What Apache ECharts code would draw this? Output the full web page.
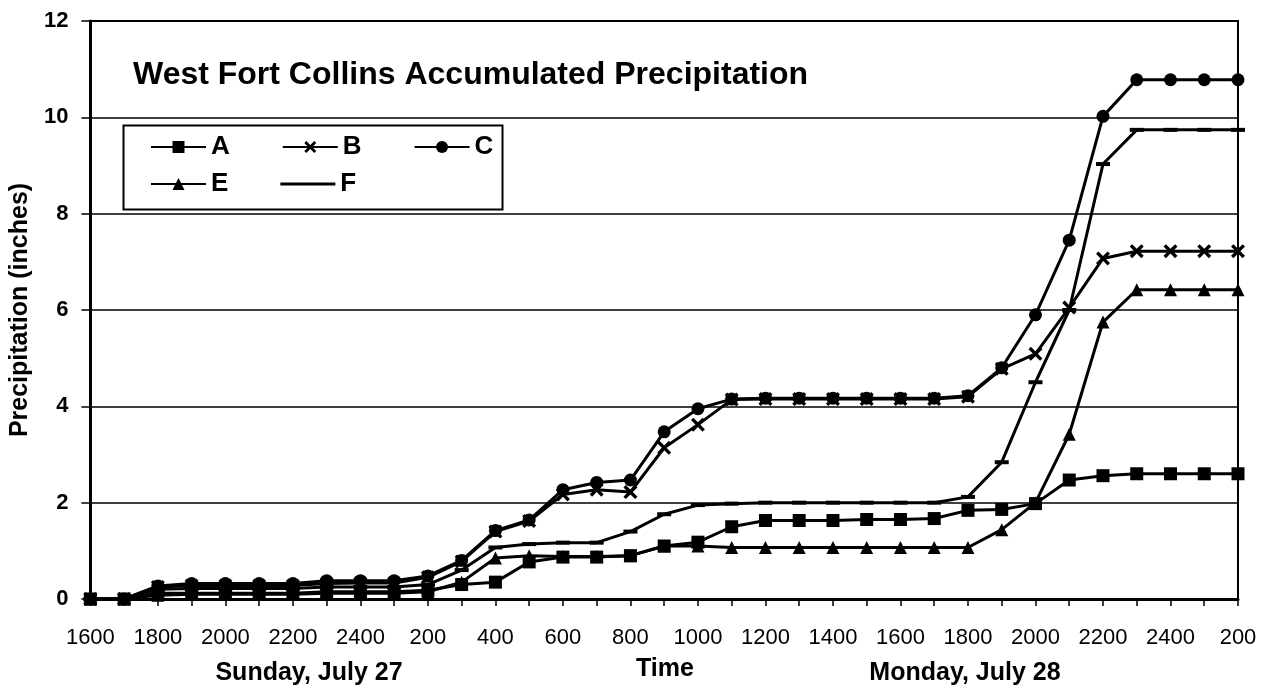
<!DOCTYPE html>
<html>
<head>
<meta charset="utf-8">
<script src="https://cdn.jsdelivr.net/npm/echarts@6/dist/echarts.min.js"></script>
<style>
html,body{margin:0;padding:0;background:#fff;}
#chart{width:1269px;height:697px;}
</style>
</head>
<body>
<div id="chart"></div>
<script>
const categories = ['1600','1700','1800','1900','2000','2100','2200','2300','2400','100','200','300','400','500','600','700','800','900','1000','1100','1200','1300','1400','1500','1600','1700','1800','1900','2000','2100','2200','2300','2400','100','200'];
const seriesA = [0,0,0.12,0.12,0.12,0.12,0.12,0.15,0.15,0.15,0.18,0.3,0.35,0.77,0.87,0.87,0.9,1.1,1.18,1.5,1.63,1.63,1.63,1.65,1.65,1.67,1.84,1.86,1.98,2.47,2.56,2.6,2.6,2.6,2.6];
const seriesB = [0,0,0.25,0.28,0.28,0.28,0.28,0.32,0.33,0.33,0.45,0.78,1.4,1.62,2.17,2.27,2.22,3.14,3.62,4.14,4.15,4.15,4.15,4.15,4.15,4.15,4.2,4.78,5.09,6.05,7.07,7.22,7.22,7.22,7.22];
const seriesC = [0,0,0.27,0.32,0.32,0.32,0.32,0.38,0.38,0.38,0.48,0.8,1.42,1.64,2.27,2.42,2.47,3.47,3.95,4.15,4.17,4.17,4.17,4.17,4.17,4.17,4.22,4.8,5.9,7.45,10.02,10.78,10.78,10.78,10.78];
const seriesE = [0,0,0.08,0.1,0.1,0.1,0.1,0.12,0.12,0.12,0.15,0.35,0.85,0.9,0.88,0.88,0.9,1.1,1.1,1.07,1.07,1.07,1.07,1.07,1.07,1.07,1.07,1.44,2.0,3.42,5.75,6.42,6.42,6.42,6.42];
const seriesF = [0,0,0.2,0.22,0.22,0.22,0.22,0.25,0.25,0.25,0.3,0.6,1.07,1.14,1.17,1.17,1.4,1.76,1.95,1.98,2.0,2.0,2.0,2.0,2.0,2.0,2.12,2.84,4.5,6.0,9.03,9.74,9.74,9.74,9.74];
const yTicks = [0,2,4,6,8,10,12];

const FONT = 'Liberation Sans, Arial, sans-serif';
const crossPath = 'path://M0,1.7 L1.7,0 L5,3.3 L8.3,0 L10,1.7 L6.7,5 L10,8.3 L8.3,10 L5,6.7 L1.7,10 L0,8.3 L3.3,5 Z';

function mk(name, data, symbol, size) {
  return {
    name: name, type: 'line', data: data,
    symbol: symbol, symbolSize: size, showAllSymbol: true,
    lineStyle: {color: '#000', width: 3},
    itemStyle: {color: '#000'},
    emphasis: {disabled: true},
    animation: false
  };
}

const legendText = {fontFamily: FONT, fontWeight: 'bold', fontSize: 26, color: '#000'};

const chart = echarts.init(document.getElementById('chart'), null, {renderer: 'canvas'});
chart.setOption({
  backgroundColor: '#fff',
  animation: false,
  title: {
    text: 'West Fort Collins Accumulated Precipitation',
    left: 128, top: 54,
    textStyle: {fontFamily: FONT, fontWeight: 'bold', fontSize: 32, color: '#000'}
  },
  grid: {left: 88, right: 31, top: 21, bottom: 98, show: true, borderColor: '#000', borderWidth: 2, backgroundColor: 'transparent'},
  legend: [
    {data: ['A','B','C'], left: 145, top: 129, itemWidth: 55, itemHeight: 15, itemGap: 52, textStyle: legendText},
    {data: ['E', {name: 'F', icon: 'path://M0,0 H55 V3 H0 Z'}], left: 145, top: 166, itemWidth: 55, itemHeight: 15, itemGap: 52, textStyle: legendText}
  ],
  xAxis: {
    type: 'category', data: categories, boundaryGap: false,
    axisLine: {lineStyle: {color: '#000', width: 3}},
    axisTick: {show: true, interval: 0, length: 7, lineStyle: {color: '#000', width: 1.5}},
    axisLabel: {interval: 1, margin: 28, fontFamily: FONT, fontSize: 22, color: '#000'},
    splitLine: {show: false}
  },
  yAxis: {
    type: 'value', min: 0, max: 12, interval: 2,
    name: 'Precipitation (inches)', nameLocation: 'middle', nameGap: 52,
    nameTextStyle: {fontFamily: FONT, fontWeight: 'bold', fontSize: 25, color: '#000'},
    axisLine: {show: true, lineStyle: {color: '#000', width: 3}},
    axisTick: {show: true, length: 9, lineStyle: {color: '#000', width: 1.5}},
    axisLabel: {margin: 22, fontFamily: FONT, fontWeight: 'bold', fontSize: 22, color: '#000'},
    splitLine: {show: true, lineStyle: {color: '#000', width: 1.5}}
  },
  graphic: [
    {type: 'rect', left: 121, top: 123, shape: {width: 379, height: 84}, style: {fill: 'none', stroke: '#000', lineWidth: 2}, z: 5},
    {type: 'text', x: 309, y: 673, style: {text: 'Sunday, July 27', font: 'bold 25px ' + FONT, fill: '#000', textAlign: 'center', textVerticalAlign: 'middle'}},
    {type: 'text', x: 665, y: 669, style: {text: 'Time', font: 'bold 25px ' + FONT, fill: '#000', textAlign: 'center', textVerticalAlign: 'middle'}},
    {type: 'text', x: 965, y: 673, style: {text: 'Monday, July 28', font: 'bold 25px ' + FONT, fill: '#000', textAlign: 'center', textVerticalAlign: 'middle'}}
  ],
  series: [
    mk('A', seriesA, 'rect', 13),
    mk('B', seriesB, crossPath, 14),
    mk('C', seriesC, 'circle', 13),
    mk('E', seriesE, 'triangle', 13),
    mk('F', seriesF, 'rect', [14, 4])
  ]
});
</script>
</body>
</html>
